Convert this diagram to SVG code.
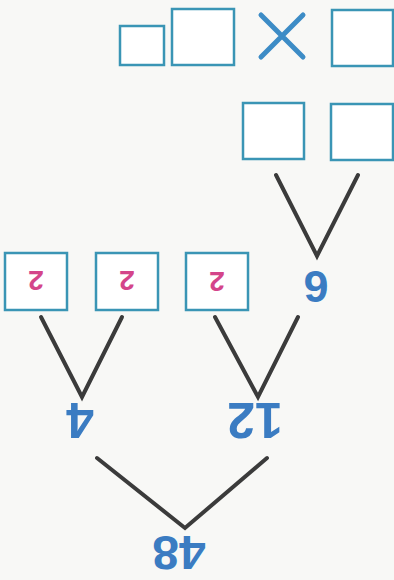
<svg xmlns="http://www.w3.org/2000/svg" width="394" height="580" viewBox="0 0 394 580">
<style>
.box{fill:#ffffff;stroke:#3a95b5;stroke-width:2.5}
.ln{fill:none;stroke:#3b3b3b;stroke-width:4;stroke-linecap:round;stroke-linejoin:miter}
.num{font-family:"Liberation Sans",Arial,sans-serif;font-weight:bold;fill:#3b7cc2;text-anchor:middle}
.pk{font-family:"Liberation Sans",Arial,sans-serif;font-weight:bold;fill:#d4458a;text-anchor:middle;font-size:28px}
</style>
<rect width="394" height="580" fill="#f8f8f6"/>
<g id="top-row">
<rect class="box" x="120" y="26" width="44" height="39"/>
<rect class="box" x="172" y="9" width="62" height="56"/>
<path d="M261 15 L303 57 M303 15 L261 57" stroke="#3d8cc6" stroke-width="5" stroke-linecap="round" fill="none"/>
<rect class="box" x="332" y="10" width="61" height="56"/>
</g>
<g id="second-row">
<rect class="box" x="243" y="103" width="61" height="56"/>
<rect class="box" x="331" y="104" width="62" height="56"/>
</g>
<g id="node-6"><text class="num" font-size="45" transform="translate(316,287) rotate(180)" y="16">6</text></g>
<g id="node-2a"><rect class="box" x="5" y="253" width="62" height="57"/><text class="pk" transform="translate(36,281) rotate(180)" y="10">2</text></g>
<g id="node-2b"><rect class="box" x="96" y="253" width="62" height="57"/><text class="pk" transform="translate(127,281) rotate(180)" y="10">2</text></g>
<g id="node-2c"><rect class="box" x="186" y="253" width="62" height="57"/><text class="pk" transform="translate(217,282) rotate(180)" y="10">2</text></g>
<g id="node-4"><text class="num" font-size="50" transform="translate(80,421) rotate(180)" y="18">4</text></g>
<g id="node-12"><text class="num" font-size="50" transform="translate(255,421) rotate(180)" y="18">12</text></g>
<g id="node-48"><text class="num" font-size="48" transform="translate(179,553) rotate(180)" y="17">48</text></g>
<g id="connectors">
<polyline class="ln" points="276,175 317,256 358,175"/>
<polyline class="ln" points="41,317 82,397 122,317"/>
<polyline class="ln" points="215,317 258,397 298,317"/>
<polyline class="ln" points="97,458 185,528 267,458"/>
</g>
</svg>
